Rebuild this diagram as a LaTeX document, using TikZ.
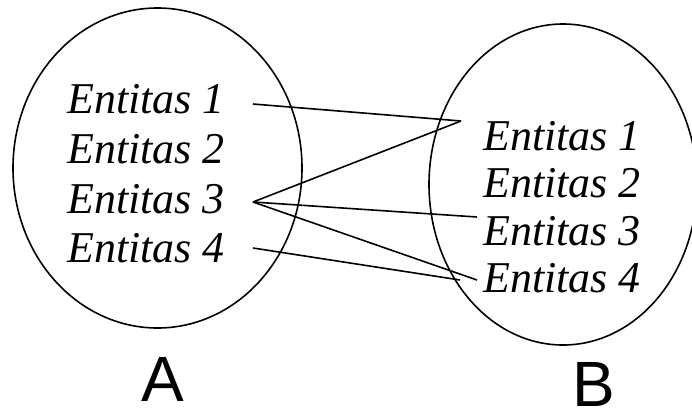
\documentclass[tikz,border=0pt]{standalone}
\usepackage{fontspec}
\setmainfont{Liberation Serif}
\newfontfamily\labelfont{Liberation Sans}
\usetikzlibrary{shapes.geometric}
\begin{document}
\begin{tikzpicture}[x=1pt,y=-1pt,
  setshape/.style={draw, ellipse, line width=1.6pt, inner sep=0pt},
  ent/.style={font=\fontsize{44}{44}\selectfont\itshape, anchor=base west, inner sep=0pt},
  setlbl/.style={font=\labelfont\fontsize{64}{64}\selectfont, anchor=base, inner sep=0pt},
  link/.style={line width=1.6pt}]
\useasboundingbox (0,0) rectangle (692,410);
% sets
\node[setshape, minimum width=289pt, minimum height=320pt] (A) at (157.5,168) {};
\node[setshape, minimum width=268pt, minimum height=321pt] (B) at (563,184.5) {};
% entities of A
\node[ent] (a1) at (67,113) {Entitas 1};
\node[ent] (a2) at (67,163) {Entitas 2};
\node[ent] (a3) at (67,213) {Entitas 3};
\node[ent] (a4) at (67,262) {Entitas 4};
% entities of B
\node[ent] (b1) at (483,150) {Entitas 1};
\node[ent] (b2) at (483,197) {Entitas 2};
\node[ent] (b3) at (483,245) {Entitas 3};
\node[ent] (b4) at (483,292) {Entitas 4};
% labels
\node[setlbl] (la) at (163,401) {A};
\node[setlbl] (lb) at (594,406) {B};
% connector ends
\coordinate (s1) at (253,104);
\coordinate (s3) at (253,202);
\coordinate (s4) at (253,248);
\coordinate (t1) at (461,121);
\coordinate (t3) at (477,217);
\coordinate (t4a) at (477,280);
\coordinate (t4b) at (460,280);
% connectors
\draw[link] (s1) -- (t1);
\draw[link] (s3) -- (t1);
\draw[link] (s3) -- (t3);
\draw[link] (s3) -- (t4a);
\draw[link] (s4) -- (t4b);
\end{tikzpicture}
\end{document}
